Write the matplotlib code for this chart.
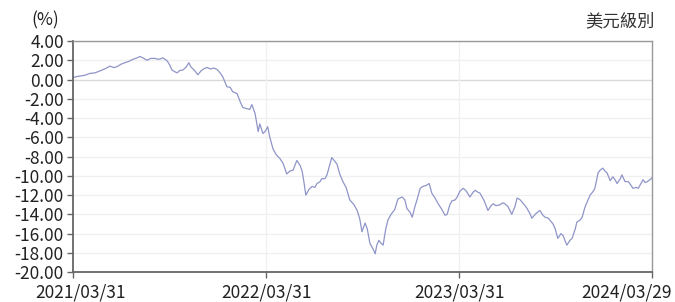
import datetime as dt
import numpy as np
import matplotlib
matplotlib.use("Agg")
import matplotlib.pyplot as plt
from matplotlib.transforms import ScaledTranslation

plt.rcParams['font.family'] = ['Noto Sans CJK TC', 'DejaVu Sans']

start_date = dt.date(2021, 3, 31)

# day offsets from 2021/03/31 and cumulative return (%)
day_offsets = [
    0, 6, 13, 23, 32, 42, 51, 60, 70, 77, 83, 91, 98, 106, 113, 121, 127, 134, 140, 147,
    155, 162, 170, 178, 183, 187, 193, 197, 202, 208, 214, 219, 223, 229, 236, 242, 248, 253, 261, 266,
    272, 278, 283, 291, 297, 302, 310, 316, 321, 327, 334, 338, 344, 350, 353, 359, 363, 368, 372, 378,
    384, 391, 397, 404, 410, 416, 423, 429, 433, 436, 440, 446, 452, 457, 461, 467, 470, 476, 480, 486,
    489, 495, 499, 504, 510, 516, 523, 531, 537, 542, 546, 552, 556, 561, 567, 571, 574, 578, 582, 586,
    591, 595, 601, 608, 614, 622, 627, 631, 637, 641, 646, 650, 656, 661, 667, 673, 678, 684, 690, 697,
    703, 707, 712, 716, 722, 726, 731, 737, 742, 750, 756, 760, 765, 769, 777, 784, 790, 794, 799, 807,
    812, 816, 822, 829, 835, 839, 845, 848, 854, 858, 864, 867, 875, 882, 888, 892, 898, 901, 907, 911,
    916, 922, 926, 930, 933, 939, 943, 949, 952, 958, 962, 967, 973, 977, 983, 986, 990, 992, 996, 1001,
    1005, 1009, 1015, 1020, 1024, 1028, 1034, 1037, 1043, 1049, 1052, 1058, 1064, 1068, 1073, 1077, 1081, 1085, 1090, 1094,
]
returns = [
    0.2, 0.3, 0.36, 0.45, 0.64, 0.7, 0.9, 1.1, 1.4, 1.25, 1.33, 1.6, 1.75, 1.9, 2.1, 2.25, 2.4, 2.2, 2.0, 2.2,
    2.2, 2.1, 2.25, 1.95, 1.5, 1.0, 0.8, 0.7, 0.95, 1.0, 1.3, 1.75, 1.3, 1.0, 0.5, 0.9, 1.15, 1.25, 1.1, 1.2,
    1.06, 0.7, 0.3, -0.75, -0.8, -1.27, -1.45, -2.3, -2.9, -3.0, -3.1, -2.6, -3.5, -5.4, -4.6, -5.6, -5.4, -4.9, -6.0, -7.2,
    -7.8, -8.2, -8.7, -9.8, -9.5, -9.4, -8.4, -8.9, -9.5, -10.5, -12.0, -11.4, -11.1, -11.2, -10.8, -10.6, -10.3, -10.3, -9.9, -8.7,
    -8.1, -8.5, -8.8, -9.8, -10.6, -11.2, -12.5, -13.0, -13.6, -14.5, -15.8, -14.9, -15.5, -17.0, -17.6, -18.1, -17.2, -16.7, -17.0, -17.2,
    -15.5, -14.6, -14.0, -13.5, -12.4, -12.2, -12.5, -13.4, -13.8, -14.3, -13.2, -12.5, -11.3, -11.1, -11.0, -10.8, -11.8, -12.3, -12.9, -13.5,
    -14.1, -14.0, -13.0, -12.6, -12.5, -12.2, -11.6, -11.3, -11.5, -12.2, -11.7, -11.5, -11.7, -11.8, -12.6, -13.6, -13.1, -12.9, -13.1, -13.0,
    -12.8, -12.9, -13.2, -14.0, -13.2, -12.3, -12.5, -12.7, -13.1, -13.4, -14.0, -14.4, -13.9, -13.6, -14.1, -14.3, -14.4, -14.6, -15.0, -15.5,
    -16.5, -16.0, -16.2, -16.8, -17.2, -16.7, -16.5, -15.5, -14.8, -14.6, -14.3, -13.3, -12.5, -12.0, -11.6, -11.3, -10.2, -9.7, -9.4, -9.2,
    -9.5, -9.7, -10.5, -10.1, -10.4, -10.8, -10.3, -9.9, -10.6, -10.6, -10.8, -11.3, -11.2, -11.3, -10.8, -10.4, -10.7, -10.6, -10.4, -10.2,
]

x_tick_labels = ['2021/03/31', '2022/03/31', '2023/03/31', '2024/03/29']
y_ticks = np.arange(-20, 4.01, 2)

dates = [start_date + dt.timedelta(days=d) for d in day_offsets]
x_ticks = [dt.datetime.strptime(s, '%Y/%m/%d').date() for s in x_tick_labels]

fig = plt.figure(figsize=(6.75, 3.02), dpi=100)
ax = fig.add_axes([0.108, 0.099, 0.858, 0.765])

# light grid
for y in y_ticks:
    ax.axhline(y, color='#d9d9d9' if y == 0 else '#f0f0f0', lw=1.0, zorder=0)
for xd in x_ticks[1:-1]:
    ax.axvline(xd, color='#f0f0f0', lw=1.0, zorder=0)

ax.plot(dates, returns, color='#8f95c8', lw=0.9, zorder=2)

ax.set_xlim(x_ticks[0], x_ticks[-1])
ax.set_ylim(-20, 4)
ax.set_yticks(y_ticks)
ax.set_yticklabels([f'{v:.2f}' for v in y_ticks])
ax.set_xticks(x_ticks)
ax.set_xticklabels(x_tick_labels)
ax.tick_params(axis='both', labelsize=12.5, labelcolor='#222222', color='#666666',
               length=4, width=1, direction='out')
ax.tick_params(axis='y', pad=2.5)
ax.tick_params(axis='x', pad=4.5)

for side in ['left', 'bottom']:
    ax.spines[side].set_color('#666666')
    ax.spines[side].set_linewidth(1.3)
for side in ['top', 'right']:
    ax.spines[side].set_color('#999999')
    ax.spines[side].set_linewidth(1.0)

# shift the outer date labels inward like the reference
xlabels = ax.get_xticklabels()
xlabels[0].set_transform(xlabels[0].get_transform() + ScaledTranslation(8 / 100, 0, fig.dpi_scale_trans))
xlabels[-1].set_transform(xlabels[-1].get_transform() + ScaledTranslation(-25 / 100, 0, fig.dpi_scale_trans))

fig.text(45 / 675, 1 - 20 / 302, '(%)', ha='center', va='center', fontsize=12.5, color='#222222')
fig.text(655 / 675, 1 - 21 / 302, '美元級別', ha='right', va='center', fontsize=12.5, color='#333333')

fig.savefig('out.png', dpi=100)
